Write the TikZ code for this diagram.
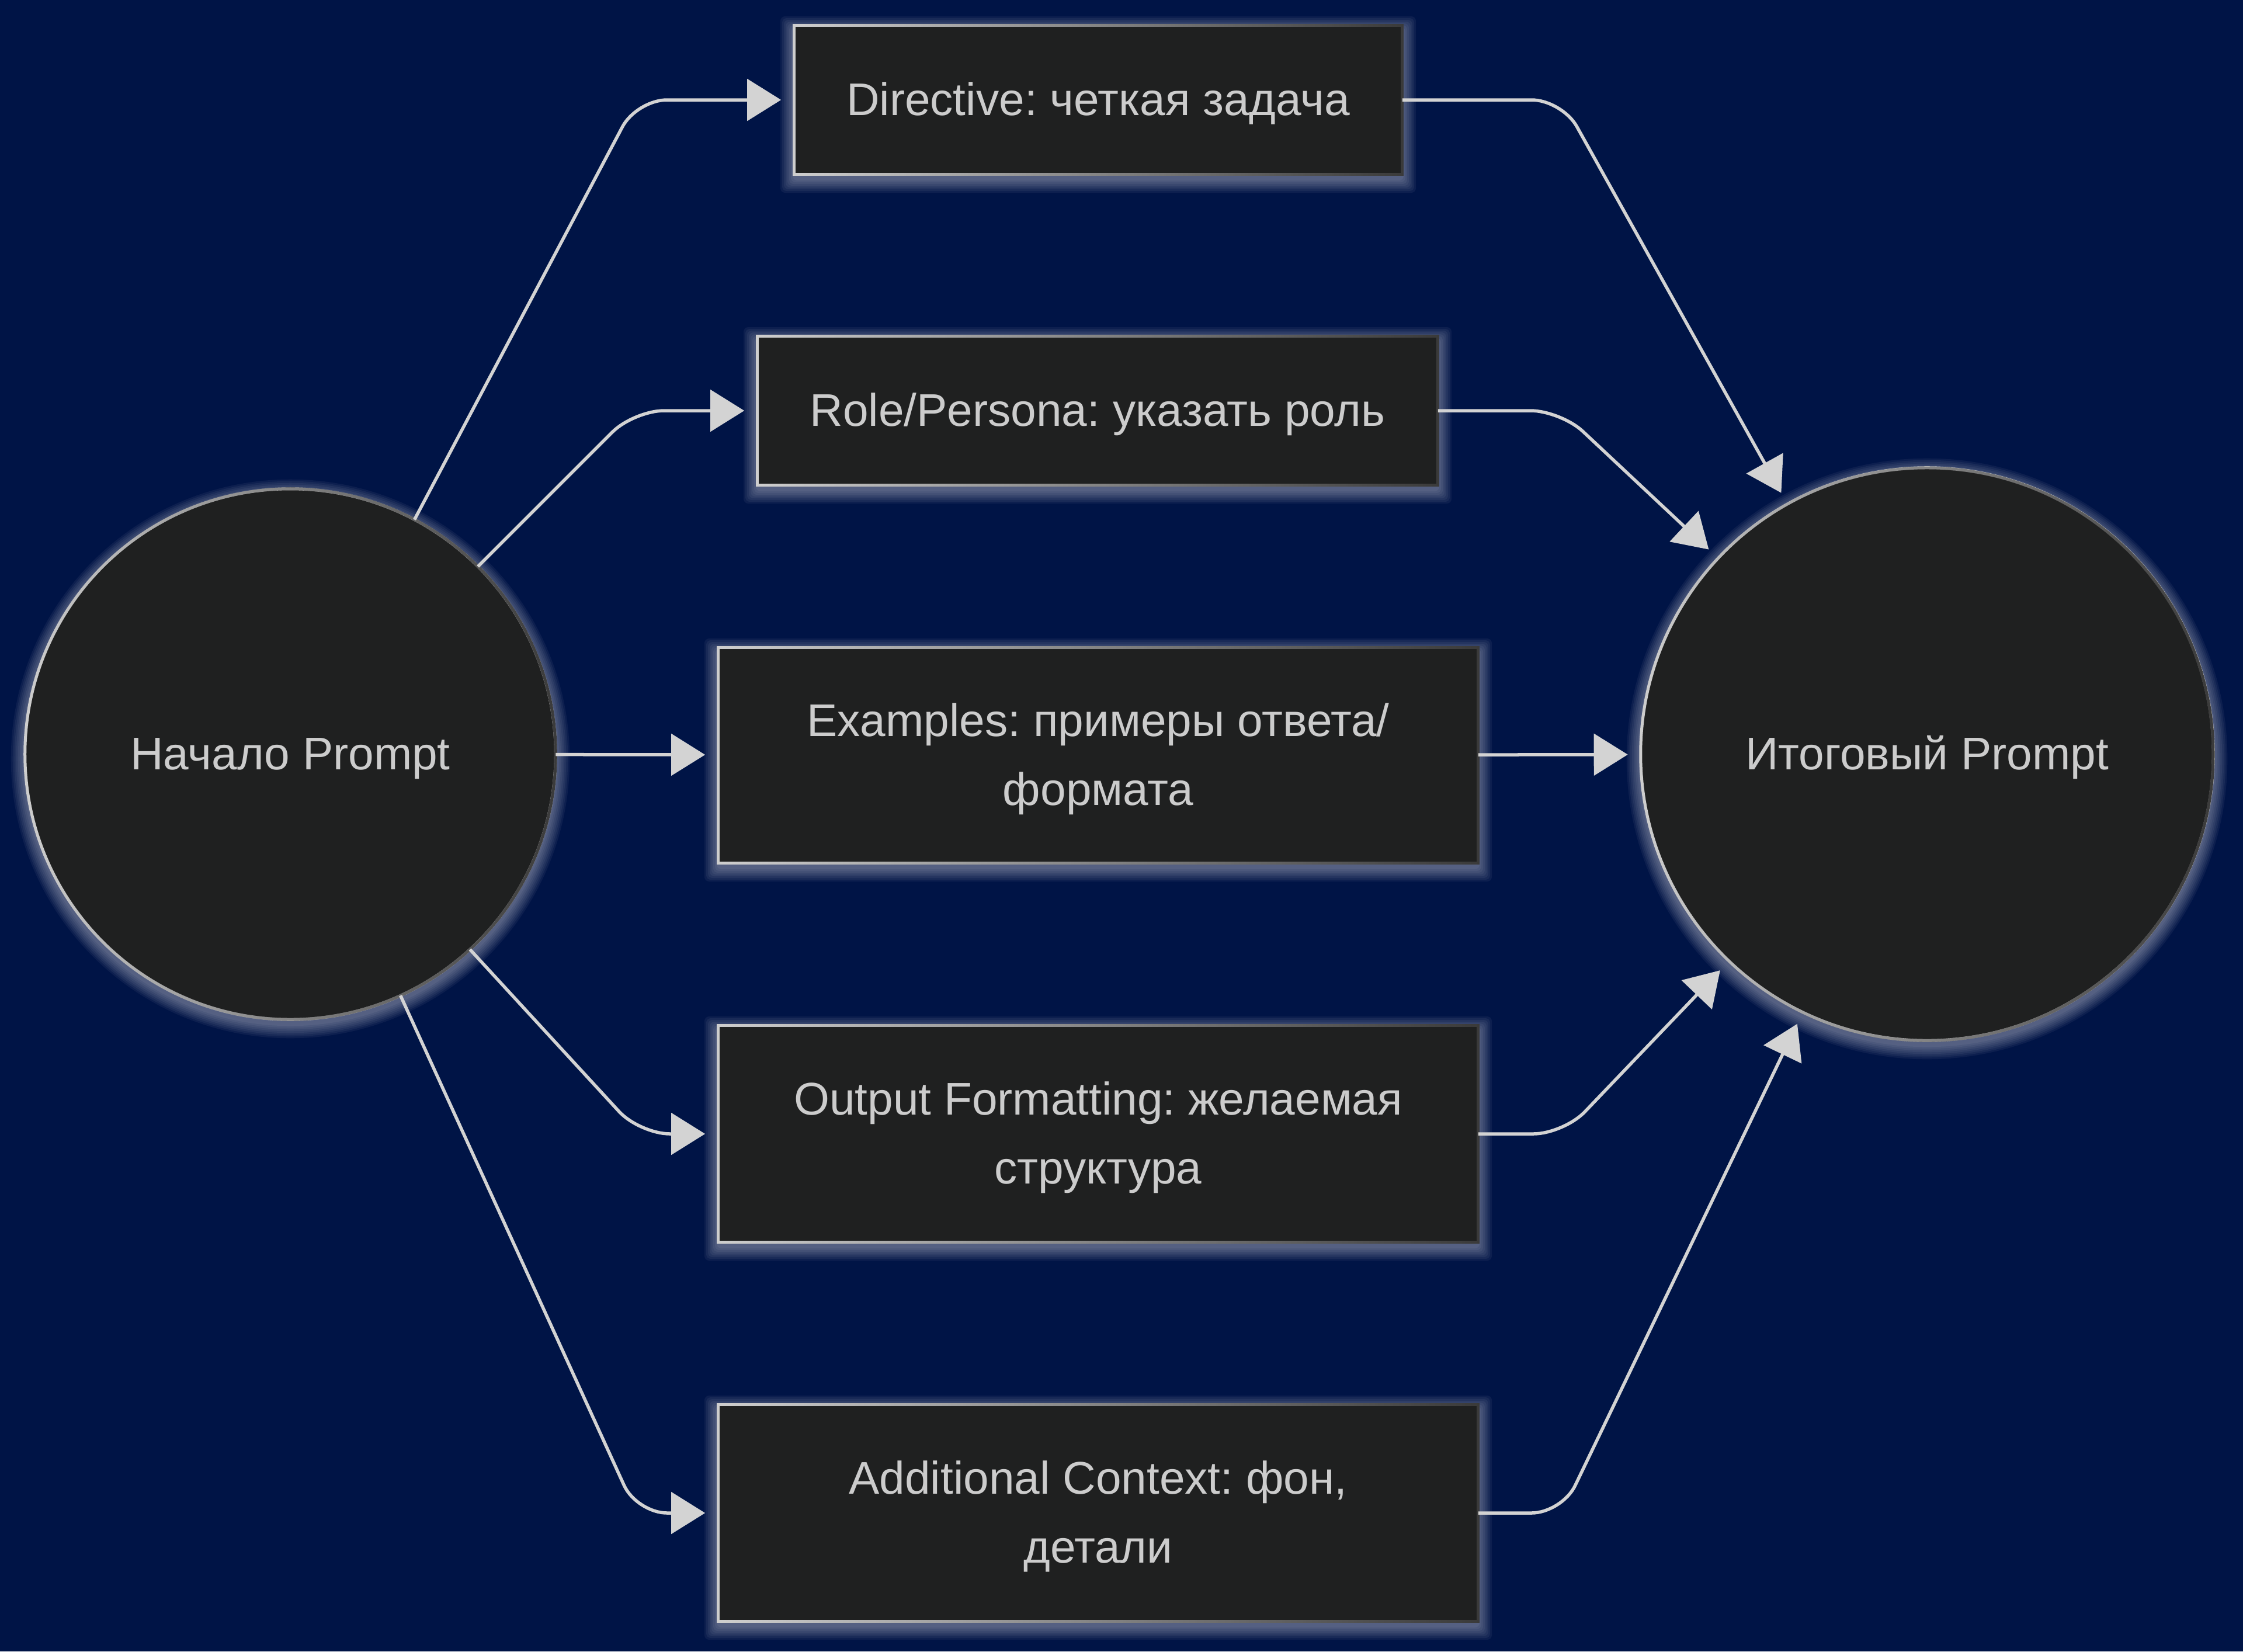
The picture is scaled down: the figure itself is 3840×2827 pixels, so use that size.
\documentclass[tikz,border=0pt]{standalone}
\usepackage{fontspec}
\setmainfont{Liberation Sans}
\frenchspacing
\usetikzlibrary{arrows.meta,fadings}
\definecolor{bgc}{HTML}{001446}
\definecolor{nodefill}{HTML}{1F2020}
\definecolor{txt}{HTML}{CCCCCC}
\definecolor{edgec}{HTML}{D3D3D3}
\definecolor{bordlight}{HTML}{CFCFCF}
\definecolor{borddark}{HTML}{3A3A3A}
\tikzfading[name=darkright, left color=transparent!100, right color=transparent!0]
\newcommand\glowbox[4]{%
  \foreach \i in {1,...,8}{%
    \fill[white,opacity=0.05,rounded corners=0.08cm] (#1-#3-\i*3, #2-#4-\i*3+8) rectangle (#1+#3+\i*3, #2+#4+\i*3+8);
  }}
\newcommand\glowcirc[3]{%
  \foreach \i in {1,...,8}{%
    \fill[white,opacity=0.05] (#1, #2+8) circle[radius={#3cm+\i*0.03cm}];
  }}
\newcommand\lbltext[1]{\frenchspacing\raisebox{-0.9pt}[\height][\depth]{\begin{tabular}{@{}c@{}}#1\end{tabular}}}
\begin{document}
\begin{tikzpicture}[x=0.01cm,y=-0.01cm,
  lbl/.style={fill=nodefill, draw=bordlight, line width=0.05cm, outer sep=0pt, inner sep=0pt,
    text=txt, font=\fontsize{22.3pt}{33.5pt}\selectfont},
  boxnode/.style={lbl, rectangle},
  circnode/.style={lbl, circle},
  link/.style={draw=edgec, line width=0.055cm, rounded corners=0.52cm},
  arr/.style={link, -{Triangle[length=0.58cm,width=0.71cm]}, shorten >=0.22cm},
  shade/.style={draw=borddark, line width=0.05cm, path fading=darkright}
]
\fill[bgc] (0,0) rectangle (3840,2827);
\useasboundingbox (0,0) rectangle (3840,2827);

% glows
\glowcirc{497}{1291}{4.54}
\glowcirc{3299}{1291}{4.90}
\glowbox{1880}{171}{520}{127}
\glowbox{1879}{703}{582}{127}
\glowbox{1880}{1293}{650}{184}
\glowbox{1880}{1941}{650}{185}
\glowbox{1880}{2590}{650}{185}

% nodes
\node[circnode, minimum size=9.08cm] (L) at (497,1291) {\lbltext{Начало Prompt}};
\node[circnode, minimum size=9.80cm] (R) at (3299,1291) {\lbltext{Итоговый Prompt}};
\node[boxnode, minimum width=10.41cm, minimum height=2.55cm] (d) at (1880,171) {\lbltext{Directive: четкая задача}};
\node[boxnode, minimum width=11.65cm, minimum height=2.54cm] (r) at (1879,703) {\lbltext{Role/Persona: указать роль}};
\node[boxnode, minimum width=13.01cm, minimum height=3.68cm] (e) at (1880,1293) {\lbltext{Examples: примеры ответа/\\формата}};
\node[boxnode, minimum width=13.01cm, minimum height=3.70cm] (o) at (1880,1941) {\lbltext{Output Formatting: желаемая\\структура}};
\node[boxnode, minimum width=13.01cm, minimum height=3.71cm] (a) at (1880,2590) {\lbltext{Additional Context: фон,\\детали}};

% border shading
\draw[shade] (L) circle[radius=4.54cm];
\draw[shade] (R) circle[radius=4.90cm];
\foreach \n in {d,r,e,o,a}{\draw[shade] (\n.north west) rectangle (\n.south east);}

% coordinates of bends
\coordinate (l1) at (1090,171);
\coordinate (l2) at (1085,703);
\coordinate (l4) at (1095,1941);
\coordinate (l5) at (1090,2590);
\coordinate (r1) at (2674,171);
\coordinate (r2) at (2672,703);
\coordinate (r4) at (2677,1941);
\coordinate (r5) at (2674,2590);

% edges
\draw[arr] (L) -- (l1) -- (d);
\draw[arr] (L) -- (l2) -- (r);
\draw[arr] (L) -- (e);
\draw[arr] (L) -- (l4) -- (o);
\draw[arr] (L) -- (l5) -- (a);
\draw[arr] (d) -- (r1) -- (R);
\draw[arr] (r) -- (r2) -- (R);
\draw[arr] (e) -- (R);
\draw[arr] (o) -- (r4) -- (R);
\draw[arr] (a) -- (r5) -- (R);
\end{tikzpicture}
\end{document}
